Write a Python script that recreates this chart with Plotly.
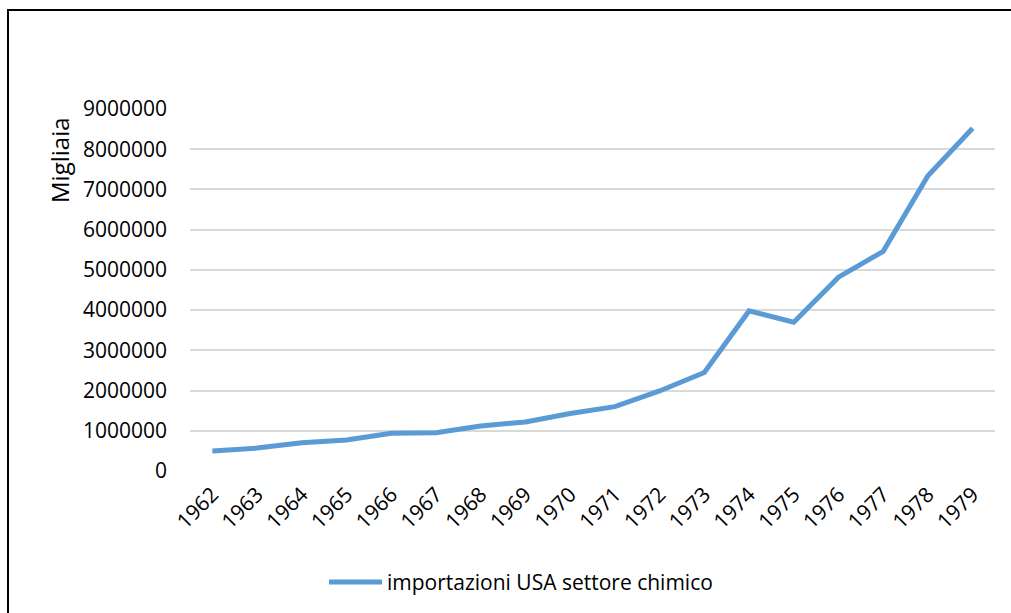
import plotly.graph_objects as go

# Annual US chemical-sector imports (thousands)
years = ["1962", "1963", "1964", "1965", "1966", "1967", "1968", "1969", "1970",
         "1971", "1972", "1973", "1974", "1975", "1976", "1977", "1978", "1979"]
imports = [500000, 570000, 700000, 770000, 940000, 950000, 1120000, 1220000, 1430000,
           1600000, 1990000, 2450000, 3980000, 3700000, 4820000, 5460000, 7340000, 8520000]
y_ticks = [0, 1000000, 2000000, 3000000, 4000000, 5000000, 6000000, 7000000, 8000000, 9000000]
series_name = "importazioni USA settore chimico"
axis_title = "Migliaia"

W, H = 1011, 613
L, R, T, B = 190, 16, 109, 142
PW, PH = W - L - R, H - T - B

def px_x(p):
    return (p - L) / PW

def px_y(p):
    return (H - B - p) / PH

FONT = "Open Sans"
FS = 21
BLUE = "#5B9BD5"

fig = go.Figure()
fig.add_trace(go.Scatter(
    x=list(range(len(years))), y=imports, mode="lines", name=series_name,
    line=dict(color=BLUE, width=5, shape="linear"), showlegend=False,
))

fig.update_layout(
    width=W, height=H,
    margin=dict(l=L, r=R, t=T, b=B),
    paper_bgcolor="white", plot_bgcolor="white",
    font=dict(family=FONT, size=FS, color="#000000"),
    xaxis=dict(
        range=[-0.5, len(years) - 0.5],
        tickmode="array", tickvals=list(range(len(years))), ticktext=years,
        tickangle=-45, showgrid=False, zeroline=False, showline=False,
        ticks="", ticklabelstandoff=6,
        tickfont=dict(family=FONT, size=FS, color="#000000"),
    ),
    yaxis=dict(
        range=[0, 9000000],
        tickmode="array", tickvals=y_ticks, ticktext=[str(v) for v in y_ticks],
        showgrid=True, gridcolor="#D9D9D9", gridwidth=1.5,
        zeroline=False, showline=False, ticks="", ticklabelstandoff=22,
        tickfont=dict(family=FONT, size=FS, color="#000000"),
    ),
    shapes=[
        # chart frame
        dict(type="rect", xref="paper", yref="paper",
             x0=px_x(8), x1=px_x(W + 10), y0=px_y(H + 10), y1=px_y(10),
             line=dict(color="#000000", width=2), fillcolor="rgba(0,0,0,0)", layer="below"),
        # legend sample
        dict(type="line", xref="paper", yref="paper",
             x0=px_x(329), x1=px_x(382), y0=px_y(582), y1=px_y(582),
             line=dict(color=BLUE, width=5)),
    ],
    annotations=[
        dict(text=axis_title, xref="paper", yref="paper", x=px_x(59), y=px_y(160),
             textangle=-90, showarrow=False, xanchor="center", yanchor="middle",
             font=dict(family=FONT, size=24, color="#000000")),
        dict(text=series_name, xref="paper", yref="paper", x=px_x(385), y=px_y(582),
             showarrow=False, xanchor="left", yanchor="middle",
             font=dict(family=FONT, size=FS, color="#000000")),
    ],
)

fig.write_html("out.html")
